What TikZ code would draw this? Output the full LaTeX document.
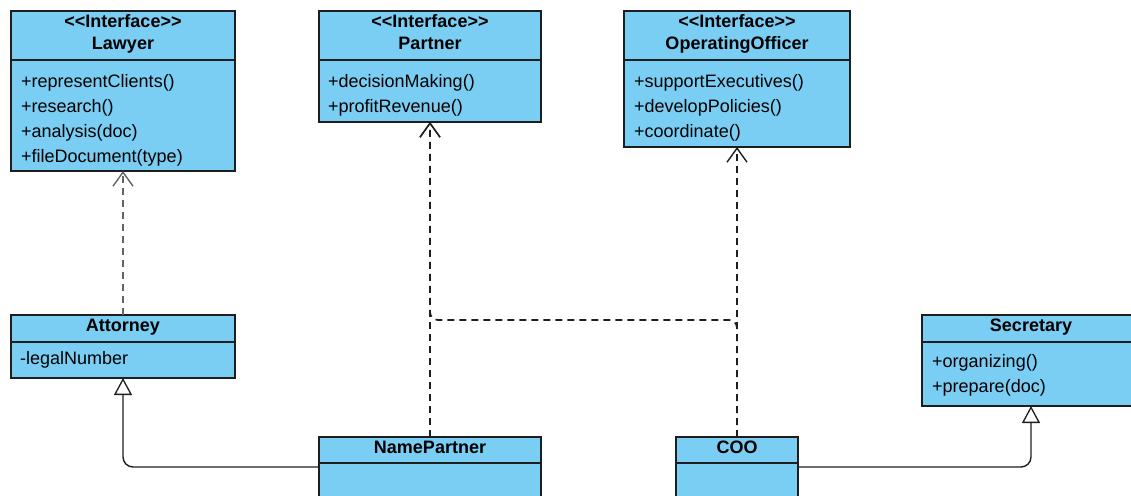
\documentclass[tikz,border=0pt]{standalone}
\usepackage{fontspec}
\setmainfont{Liberation Sans}
\usetikzlibrary{arrows.meta}
\definecolor{boxfill}{RGB}{122,206,243}
\definecolor{boxline}{RGB}{30,30,30}
\definecolor{linec}{RGB}{30,30,30}
\definecolor{greyc}{RGB}{100,100,100}
\begin{document}
\begin{tikzpicture}[x=1pt,y=-1pt,
  font=\fontsize{18}{22}\selectfont,
  cls/.style={draw=boxline, fill=boxfill, line width=1.4pt, inner sep=0pt, outer sep=0pt, anchor=north west, rectangle},
  hd/.style={font=\fontsize{18}{22}\selectfont\bfseries, anchor=base, inner sep=0pt},
  mt/.style={anchor=base west, inner sep=0pt},
  divl/.style={draw=boxline, line width=1.4pt},
  real/.style={draw=linec, line width=1.7pt, dash pattern=on 7pt off 5pt, rounded corners=8pt, -{Straight Barb[length=14pt,width=20pt,line width=1.4pt]}},
  gen/.style={draw=linec, line width=1.4pt, rounded corners=10pt, -{Triangle[fill=white,length=17pt,width=18pt,line width=1.3pt]}}
]
\useasboundingbox (0,0) rectangle (1131,495);
\clip (0,0) rectangle (1131,495);

% Lawyer
\node[cls, minimum width=224pt, minimum height=160pt] (lawyer) at (11,11) {};
\draw[divl] (lawyer.west |- 0,60) -- (lawyer.east |- 0,60);
\node[hd] (lawyer-s) at (123,28) {<\kern0pt<Interface>\kern0pt>};
\node[hd] (lawyer-n) at (123,49) {Lawyer};
\node[mt] (lawyer-1) at (21,87) {+representClients()};
\node[mt] (lawyer-2) at (21,112) {+research()};
\node[mt] (lawyer-3) at (21,137) {+analysis(doc)};
\node[mt] (lawyer-4) at (21,162) {+fileDocument(type)};

% Partner
\node[cls, minimum width=222pt, minimum height=111pt] (partner) at (319,11) {};
\draw[divl] (partner.west |- 0,60) -- (partner.east |- 0,60);
\node[hd] (partner-s) at (430,28) {<\kern0pt<Interface>\kern0pt>};
\node[hd] (partner-n) at (430,49) {Partner};
\node[mt] (partner-1) at (328,87) {+decisionMaking()};
\node[mt] (partner-2) at (328,112) {+profitRevenue()};

% OperatingOfficer
\node[cls, minimum width=226pt, minimum height=136pt] (oo) at (624,11) {};
\draw[divl] (oo.west |- 0,60) -- (oo.east |- 0,60);
\node[hd] (oo-s) at (737,28) {<\kern0pt<Interface>\kern0pt>};
\node[hd] (oo-n) at (737,49) {OperatingOfficer};
\node[mt] (oo-1) at (634,87) {+supportExecutives()};
\node[mt] (oo-2) at (634,112) {+developPolicies()};
\node[mt] (oo-3) at (634,137) {+coordinate()};

% Attorney
\node[cls, minimum width=224pt, minimum height=63pt] (attorney) at (11,315) {};
\draw[divl] (attorney.west |- 0,342) -- (attorney.east |- 0,342);
\node[hd] (attorney-n) at (123,331) {Attorney};
\node[mt] (attorney-1) at (20,364) {-legalNumber};

% Secretary
\node[cls, minimum width=218pt, minimum height=91pt] (secretary) at (922,315) {};
\draw[divl] (secretary.west |- 0,342) -- (secretary.east |- 0,342);
\node[hd] (secretary-n) at (1031,331) {Secretary};
\node[mt] (secretary-1) at (932,367) {+organizing()};
\node[mt] (secretary-2) at (932,392) {+prepare(doc)};

% NamePartner
\node[cls, minimum width=222pt, minimum height=60pt] (np) at (319,437) {};
\draw[divl] (np.west |- 0,463) -- (np.east |- 0,463);
\node[hd] (np-n) at (430,453) {NamePartner};

% COO
\node[cls, minimum width=122pt, minimum height=60pt] (coo) at (676,437) {};
\draw[divl] (coo.west |- 0,463) -- (coo.east |- 0,463);
\node[hd] (coo-n) at (737,453) {COO};

% connectors
\draw[real, draw=greyc] (attorney.north) -- (lawyer.south);
\draw[real] (np.north) -- (partner.south);
\draw[real] (coo.north) -- (oo.south);
\draw[real] (coo.north) -- ++(0,-117) -| (partner.south);
\draw[gen] (np.west) -| (attorney.south);
\draw[gen] (coo.east) -| (secretary.south);
\end{tikzpicture}
\end{document}
